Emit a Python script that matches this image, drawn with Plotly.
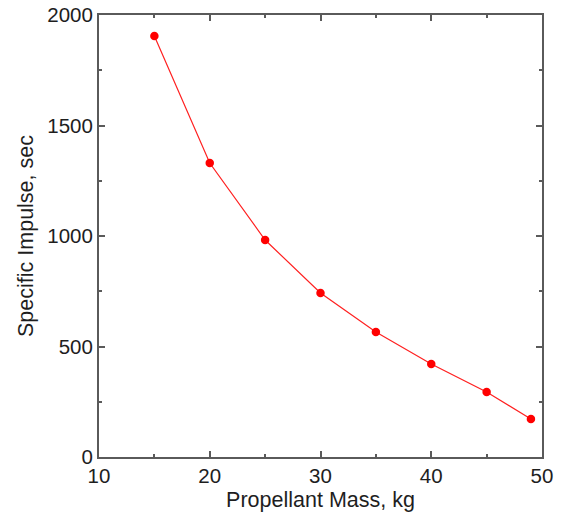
import plotly.graph_objects as go

mass_kg = [15, 20, 25, 30, 35, 40, 45, 49]
isp_sec = [1905, 1330, 982, 742, 566, 421, 294, 172]

axis_color = "#5a5a5a"
font_fam = "Liberation Sans, Arial, sans-serif"
text_color = "#1e1e1e"

fig = go.Figure()
fig.add_trace(go.Scatter(
    x=mass_kg, y=isp_sec, mode="lines+markers",
    line=dict(color="#ff2020", width=1.2),
    marker=dict(color="#ff0000", size=8.5),
    showlegend=False,
))

common = dict(
    showline=True, linecolor=axis_color, linewidth=2, mirror="ticks",
    ticks="inside", ticklen=6, tickwidth=2, tickcolor=axis_color,
    showgrid=False, zeroline=False, automargin=False,
    tickfont=dict(size=20.5, color=text_color, family=font_fam),
)

fig.update_xaxes(
    range=[10, 50], dtick=10, tick0=10, ticklabelstandoff=-1,
    minor=dict(ticks="inside", ticklen=3, tickwidth=2, tickcolor=axis_color, dtick=5, tick0=10, showgrid=False),
    title=dict(text="Propellant Mass, kg", font=dict(size=21.5, color=text_color, family=font_fam), standoff=6),
    **common,
)
fig.update_yaxes(
    range=[0, 2000], dtick=500, tick0=0,
    minor=dict(ticks="inside", ticklen=3, tickwidth=2, tickcolor=axis_color, dtick=250, tick0=0, showgrid=False),
    title=dict(text="Specific Impulse, sec", font=dict(size=21.5, color=text_color, family=font_fam), standoff=8),
    **common,
)

fig.update_layout(
    width=561, height=515,
    margin=dict(l=99, r=19, t=15, b=58),
    plot_bgcolor="white", paper_bgcolor="white",
    font=dict(family=font_fam),
)

fig.write_html("out.html")
